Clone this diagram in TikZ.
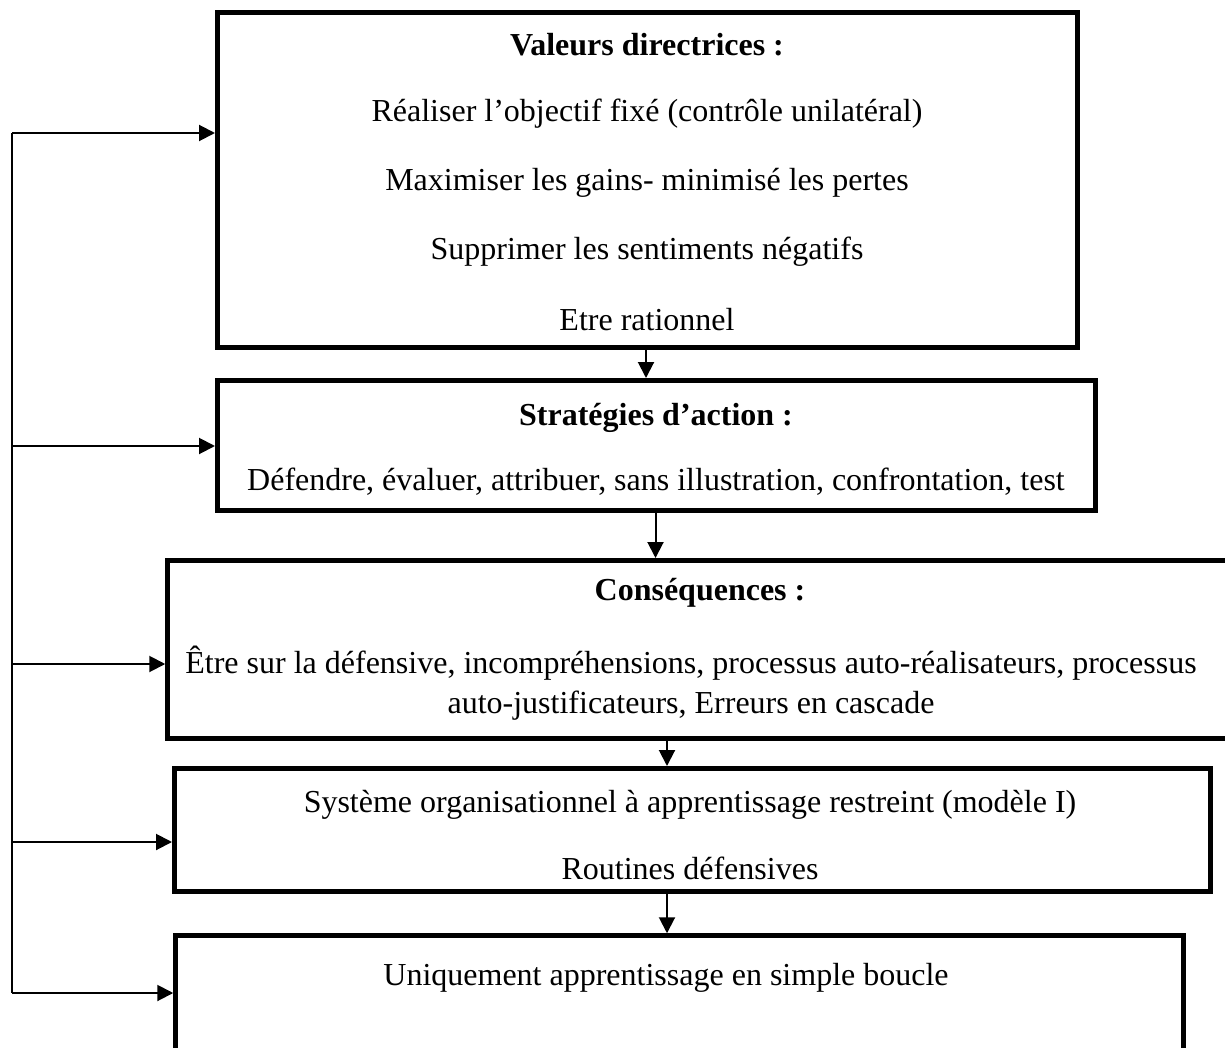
\documentclass[tikz,border=0pt]{standalone}
\usepackage{fontspec}
\setmainfont{Liberation Serif}
\usetikzlibrary{arrows.meta}
\begin{document}
\begin{tikzpicture}[x=0.5pt,y=-0.5pt,
  box/.style={draw,line width=2.5pt,rectangle,inner sep=0pt},
  txt/.style={inner sep=0pt,font=\fontsize{16pt}{19pt}\selectfont},
  ttl/.style={txt,font=\fontsize{16pt}{19pt}\selectfont\bfseries},
  link/.style={line width=1pt,-{Triangle[length=8pt,width=8pt]}}]
\useasboundingbox (0,0) rectangle (1225,1048);
\clip (0,0) rectangle (1225,1048);

% boxes
\node[box,minimum width=430pt,minimum height=167.5pt] (b1) at (647.5,180) {};
\node[box,minimum width=439pt,minimum height=65pt] (b2) at (656.5,445.5) {};
\node[box,minimum width=536pt,minimum height=89pt] (b3) at (703.75,649.5) {};
\node[box,minimum width=518pt,minimum height=61.5pt] (b4) at (692.5,830) {};
\node[box,minimum width=504pt,minimum height=67pt] (b5) at (679.75,1002.75) {};

% box texts
\node[ttl] (t1) at (647,45) {Valeurs directrices :};
\node[txt] (t1a) at (647,114) {Réaliser l’objectif fixé (contrôle unilatéral)};
\node[txt] (t1b) at (647,183) {Maximiser les gains- minimisé les pertes};
\node[txt] (t1c) at (647,252) {Supprimer les sentiments négatifs};
\node[txt] (t1d) at (647,320) {Etre rationnel};

\node[ttl] (t2) at (656,418) {Stratégies d’action :};
\node[txt] (t2a) at (656,482) {Défendre, évaluer, attribuer, sans illustration, confrontation, test};

\node[ttl] (t3) at (700,593) {Conséquences :};
\node[txt] (t3a) at (691,663) {Être sur la défensive, incompréhensions, processus auto-réalisateurs, processus};
\node[txt] (t3b) at (691,706) {auto-justificateurs, Erreurs en cascade};

\node[txt] (t4a) at (690,805) {Système organisationnel à apprentissage restreint (modèle I)};
\node[txt] (t4b) at (690,868) {Routines défensives};

\node[txt] (t5a) at (666,978) {Uniquement apprentissage en simple boucle};

% feedback line on the left
\coordinate (ftop) at (12,133);
\coordinate (fbot) at (12,993);
\draw[line width=1pt] (ftop) -- (fbot);
\draw[link] (ftop) -- (b1.west |- ftop);
\draw[link] (12,446) coordinate (f2) -- (b2.west |- f2);
\draw[link] (12,664) coordinate (f3) -- (b3.west |- f3);
\draw[link] (12,842) coordinate (f4) -- (b4.west |- f4);
\draw[link] (fbot) -- (b5.west |- fbot);

% downward links
\draw[link] (b1.south -| 646,0) -- (b2.north -| 646,0);
\draw[link] (b2.south -| 655.5,0) -- (b3.north -| 655.5,0);
\draw[link] (b3.south -| 667,0) -- (b4.north -| 667,0);
\draw[link] (b4.south -| 667,0) -- (b5.north -| 667,0);
\end{tikzpicture}
\end{document}
